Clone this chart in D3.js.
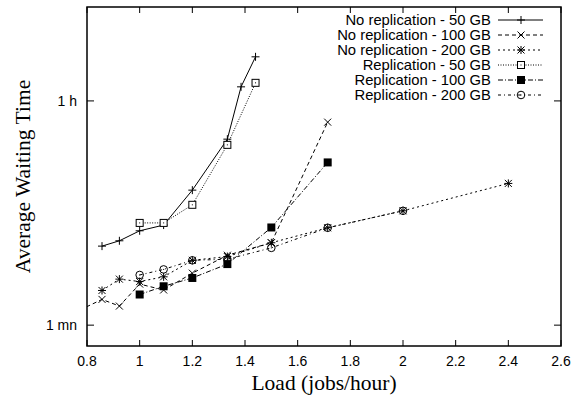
<!DOCTYPE html>
<html>
<head>
<meta charset="utf-8">
<script src="https://cdn.jsdelivr.net/npm/d3@7"></script>
<style>
  body { margin: 0; background: #fff; }
  .tick-label { font-family: "Liberation Sans", Arial, sans-serif; font-size: 14px; fill: #000; }
  .legend-label { font-family: "Liberation Sans", Arial, sans-serif; font-size: 14.8px; fill: #000; }
  .axis-title { font-family: "Liberation Serif", "Times New Roman", serif; font-size: 21.5px; fill: #000; }
</style>
</head>
<body>
<script>
// ---------------Data---------------
// load in jobs/hour, waiting time in seconds
const xTicks = [0.8, 1, 1.2, 1.4, 1.6, 1.8, 2, 2.2, 2.4, 2.6]
const yTicks = [60, 3600]
const yTickLabels = ['1 mn', '1 h']

const noRep50Load = [0.857, 0.923, 1.0, 1.091, 1.2, 1.333, 1.385, 1.44]
const noRep50Wait = [254, 280, 336, 373, 706, 1791, 4655, 8052]

const noRep100Load = [0.75, 0.857, 0.923, 1.0, 1.091, 1.2, 1.333, 1.5, 1.714]
const noRep100Wait = [75, 96, 85, 127, 114, 155, 215, 270, 2443]

const noRep200Load = [0.857, 0.923, 1.0, 1.091, 1.2, 1.333, 1.5, 1.714, 2.0, 2.4]
const noRep200Wait = [113, 139, 133, 145, 196, 210, 270, 355, 484, 798]

const rep50Load = [1.0, 1.091, 1.2, 1.333, 1.44]
const rep50Wait = [388, 388, 540, 1614, 5008]

const rep100Load = [1.0, 1.091, 1.2, 1.333, 1.5, 1.714]
const rep100Wait = [105, 122, 142, 183, 357, 1171]

const rep200Load = [1.0, 1.091, 1.2, 1.333, 1.5, 1.714, 2.0]
const rep200Wait = [150, 166, 196, 200, 246, 355, 484]

const seriesNames = [
  'No replication - 50 GB',
  'No replication - 100 GB',
  'No replication - 200 GB',
  'Replication - 50 GB',
  'Replication - 100 GB',
  'Replication - 200 GB'
]
const seriesLoads = [noRep50Load, noRep100Load, noRep200Load, rep50Load, rep100Load, rep200Load]
const seriesWaits = [noRep50Wait, noRep100Wait, noRep200Wait, rep50Wait, rep100Wait, rep200Wait]
const dashes = [null, '4,3', '2,3', '1,1.5', '5,2,1,2', '3,3,1,3']
const symbols = ['plus', 'cross', 'star', 'square', 'filled', 'circle']

// ---------------Layout---------------
const fullWidth = 581
const fullHeight = 396
const margin = { top: 7, right: 20, bottom: 50, left: 87 }
const width = fullWidth - margin.left - margin.right
const height = fullHeight - margin.top - margin.bottom

const x = d3.scaleLinear().domain([0.8, 2.6]).range([0, width])
const y = d3.scaleLog().domain([41, 20000]).range([height, 0])

const svg = d3.select('body')
  .append('svg')
  .attr('width', fullWidth)
  .attr('height', fullHeight)

svg.append('defs').append('clipPath')
  .attr('id', 'plot-clip')
  .append('rect')
  .attr('width', width)
  .attr('height', height)

const g = svg.append('g')
  .attr('transform', `translate(${margin.left},${margin.top})`)

// ---------------Ticks (gnuplot style, inward, mirrored)---------------
const tickLen = 6
xTicks.forEach(t => {
  g.append('line').attr('x1', x(t)).attr('x2', x(t)).attr('y1', height).attr('y2', height - tickLen)
    .attr('stroke', '#000').attr('stroke-width', 1)
  g.append('line').attr('x1', x(t)).attr('x2', x(t)).attr('y1', 0).attr('y2', tickLen)
    .attr('stroke', '#000').attr('stroke-width', 1)
  g.append('text')
    .attr('class', 'tick-label')
    .attr('x', x(t))
    .attr('y', height + 20)
    .attr('text-anchor', 'middle')
    .text(d3.format('~g')(t))
})

yTicks.forEach((t, i) => {
  g.append('line').attr('x1', 0).attr('x2', tickLen + 1).attr('y1', y(t)).attr('y2', y(t))
    .attr('stroke', '#000').attr('stroke-width', 1)
  g.append('line').attr('x1', width).attr('x2', width - tickLen - 1).attr('y1', y(t)).attr('y2', y(t))
    .attr('stroke', '#000').attr('stroke-width', 1)
  g.append('text')
    .attr('class', 'tick-label')
    .attr('x', -10)
    .attr('y', y(t))
    .attr('dy', '0.35em')
    .attr('text-anchor', 'end')
    .text(yTickLabels[i])
})

// ---------------Lines---------------
const line = d3.line()
  .x(d => x(d[0]))
  .y(d => y(d[1]))

const plot = g.append('g').attr('clip-path', 'url(#plot-clip)')

function drawSymbol(sel, type, cx, cy) {
  const s = 4
  if (type === 'plus' || type === 'star') {
    sel.append('path').attr('d', `M${cx - s},${cy}H${cx + s}M${cx},${cy - s}V${cy + s}`)
      .attr('stroke', '#000').attr('stroke-width', 1).attr('fill', 'none')
  }
  if (type === 'cross' || type === 'star') {
    const c = 3.5
    sel.append('path').attr('d', `M${cx - c},${cy - c}L${cx + c},${cy + c}M${cx - c},${cy + c}L${cx + c},${cy - c}`)
      .attr('stroke', '#000').attr('stroke-width', 1).attr('fill', 'none')
  }
  if (type === 'square') {
    sel.append('rect').attr('x', cx - 3.5).attr('y', cy - 3.5).attr('width', 7).attr('height', 7)
      .attr('stroke', '#000').attr('stroke-width', 1).attr('fill', '#fff')
    sel.append('rect').attr('x', cx - 0.5).attr('y', cy - 0.5).attr('width', 1).attr('height', 1).attr('fill', '#000')
  }
  if (type === 'filled') {
    sel.append('rect').attr('x', cx - 4).attr('y', cy - 4).attr('width', 8).attr('height', 8)
      .attr('fill', '#000')
  }
  if (type === 'circle') {
    sel.append('circle').attr('cx', cx).attr('cy', cy).attr('r', 3.8)
      .attr('stroke', '#000').attr('stroke-width', 1).attr('fill', 'none')
    sel.append('rect').attr('x', cx - 0.5).attr('y', cy - 0.5).attr('width', 1).attr('height', 1).attr('fill', '#000')
  }
}

seriesNames.forEach((name, i) => {
  const pts = seriesLoads[i].map((l, j) => [l, seriesWaits[i][j]])
  plot.append('path')
    .datum(pts)
    .attr('fill', 'none')
    .attr('stroke', '#000')
    .attr('stroke-width', 1)
    .attr('stroke-dasharray', dashes[i])
    .attr('d', line)

  const marks = plot.append('g')
  pts.forEach(p => {
    if (p[0] < 0.8) return
    drawSymbol(marks, symbols[i], x(p[0]), y(p[1]))
  })
})

// ---------------Frame---------------
g.append('rect')
  .attr('width', width)
  .attr('height', height)
  .attr('fill', 'none')
  .attr('stroke', '#000')
  .attr('stroke-width', 1.5)

// ---------------Legend---------------
const legend = g.append('g')
  .attr('transform', `translate(${491 - margin.left},${20 - margin.top})`)

seriesNames.forEach((name, i) => {
  const row = legend.append('g').attr('transform', `translate(0,${i * 15})`)
  row.append('text')
    .attr('class', 'legend-label')
    .attr('x', 0)
    .attr('y', 0)
    .attr('dy', '0.35em')
    .attr('text-anchor', 'end')
    .text(name)
  row.append('line')
    .attr('x1', 7).attr('x2', 52)
    .attr('y1', 0).attr('y2', 0)
    .attr('stroke', '#000')
    .attr('stroke-width', 1)
    .attr('stroke-dasharray', dashes[i])
  drawSymbol(row, symbols[i], 30, 0)
})

// ---------------Axis Titles---------------
svg.append('text')
  .attr('class', 'axis-title')
  .attr('x', margin.left + width / 2)
  .attr('y', 390)
  .attr('text-anchor', 'middle')
  .text('Load (jobs/hour)')

svg.append('text')
  .attr('class', 'axis-title')
  .attr('transform', `translate(30,${margin.top + height / 2}) rotate(-90)`)
  .attr('text-anchor', 'middle')
  .text('Average Waiting Time')
</script>
</body>
</html>
